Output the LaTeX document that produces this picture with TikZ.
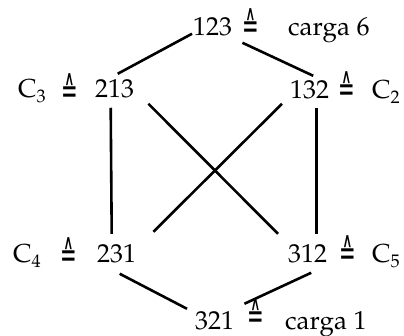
\documentclass[tikz,border=0pt]{standalone}
\usepackage[T1]{fontenc}
\usepackage{fontspec}
\newfontfamily\dejavu{DejaVu Sans}
\newcommand\palfont{\fontencoding{T1}\fontfamily{ppl}\selectfont}
\newcommand\corr{\scalebox{0.62}[1.15]{\fontsize{32}{32}\dejavu ≙}}
\usetikzlibrary{calc}
\begin{document}
\begin{tikzpicture}[x=1pt,y=-1pt,
  lbl/.style={inner sep=0pt,anchor=base west,font=\fontsize{26}{30}\palfont},
  eqs/.style={inner sep=0pt,anchor=base},
  edge/.style={line width=2.6pt}]
\useasboundingbox (0,0) rectangle (404,336);
% numbers
\node[lbl] (n123) at (193,36) {123};
\node[lbl] (n213) at (95,98) {213};
\node[lbl] (n132) at (290,99) {132};
\node[lbl] (n231) at (97,263) {231};
\node[lbl] (n312) at (288,263) {312};
\node[lbl] (n321) at (195,330) {321};
% correspondence signs
\node[eqs] (e123) at (251,39) {\corr};
\node[eqs] (e213) at (70,104) {\corr};
\node[eqs] (e132) at (347,102) {\corr};
\node[eqs] (e231) at (69,268) {\corr};
\node[eqs] (e312) at (348,266) {\corr};
\node[eqs] (e321) at (256,329) {\corr};
% names
\node[lbl] (c6) at (288,36) {carga 6};
\node[lbl] (c1) at (285,330) {carga 1};
\node[lbl] (C3) at (18,98) {C\textsubscript{3}};
\node[lbl] (C2) at (372,99) {C\textsubscript{2}};
\node[lbl] (C4) at (13,263) {C\textsubscript{4}};
\node[lbl] (C5) at (372,263) {C\textsubscript{5}};
% connectors
\draw[edge] ($(n123.south west)+(-1,-3)$) -- ($(n213.north)+(3,-6)$);
\draw[edge] ($(n123.south east)+(10,6)$) -- ($(n132.north)+(3.5,-5)$);
\draw[edge] ($(n213.south)+(-4,9)$) -- ($(n231.north)+(-5,-11)$);
\draw[edge] ($(n132.south)+(6.5,8)$) -- ($(n312.north)+(8.5,-11)$);
\draw[edge] ($(n213.south east)+(14,5)$) -- ($(n312.north west)+(-10,-11)$);
\draw[edge] ($(n132.south west)+(-8,4)$) -- ($(n231.north east)+(17,-13)$);
\draw[edge] ($(n231.south)+(3,10)$) -- ($(n321.north west)+(-8,-3)$);
\draw[edge] ($(n312.south)+(3.5,9)$) -- ($(n321.north east)+(10,-8)$);
\end{tikzpicture}
\end{document}
